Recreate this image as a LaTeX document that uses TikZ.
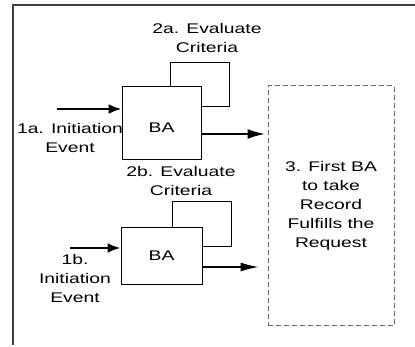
\documentclass[tikz,border=0pt]{standalone}
\usepackage{fontspec}
\setmainfont[FakeStretch=1.38]{Liberation Sans}
\usetikzlibrary{arrows.meta}
\begin{document}
\begin{tikzpicture}[x=1pt,y=1pt,
  every node/.style={font=\fontsize{14}{19}\selectfont, align=center, inner sep=0pt},
  babox/.style={draw=black, line width=0.9pt, minimum width=#1},
  thickarrow/.style={line width=2.4pt, -{Latex[length=13pt,width=10pt]}},
  longarrow/.style={line width=2.4pt, -{Latex[length=18pt,width=10pt]}},
  thinarrow/.style={line width=1.2pt, -{Latex[length=18pt,width=9pt]}},
  loopline/.style={draw=black, line width=0.9pt},
  frameline/.style={draw=black!75, line width=1.6pt},
  dashbox/.style={draw=black!60, line width=1pt, dash pattern=on 5pt off 3pt}]
\useasboundingbox (0,0) rectangle (415,347);
% frame
\coordinate (fb) at (13,2);
\coordinate (ftl) at (13,342);
\coordinate (ftr) at (415,342);
\draw[frameline] (fb) -- (ftl) -- (ftr);
% boxes
\node[babox=79pt, minimum height=73pt, text height=21pt, text depth=0pt] (b1) at (161.5,224.5) {BA};
\node[babox=81pt, minimum height=57pt] (b2) at (161.5,91.5) {BA};
\node[dashbox, minimum width=126pt, minimum height=240pt] (db) at (331,141) {3. First BA\\to take\\Record\\Fulfills the\\Request};
% labels
\node (l2a) at (207,308.5) {2a. Evaluate\\Criteria};
\node (l1a) at (70,209) {1a. Initiation\\Event};
\node (l2b) at (181,165.5) {2b. Evaluate\\Criteria};
\node (l1b) at (75,68.5) {1b.\\Initiation\\Event};
% loops
\draw[loopline] (b1.north -| 170,0) -- (170,285) -- (229,285) -- (229,241) -- (b1.east |- 0,241);
\draw[loopline] (b2.north -| 172,0) -- (172,146) -- (231,146) -- (231,101) -- (b2.east |- 0,101);
% arrows
\coordinate (s1a) at (57,238);
\coordinate (s1b) at (70,99);
\draw[thickarrow] (s1a) -- (b1.west |- s1a);
\draw[thickarrow] (s1b) -- (b2.west |- s1b);
\draw[longarrow] (b1.east |- 0,213) -- ([xshift=-2pt]db.west |- 0,213);
\draw[thinarrow] (b2.east |- 0,80) -- ([xshift=-9pt]db.west |- 0,80);
\end{tikzpicture}
\end{document}
